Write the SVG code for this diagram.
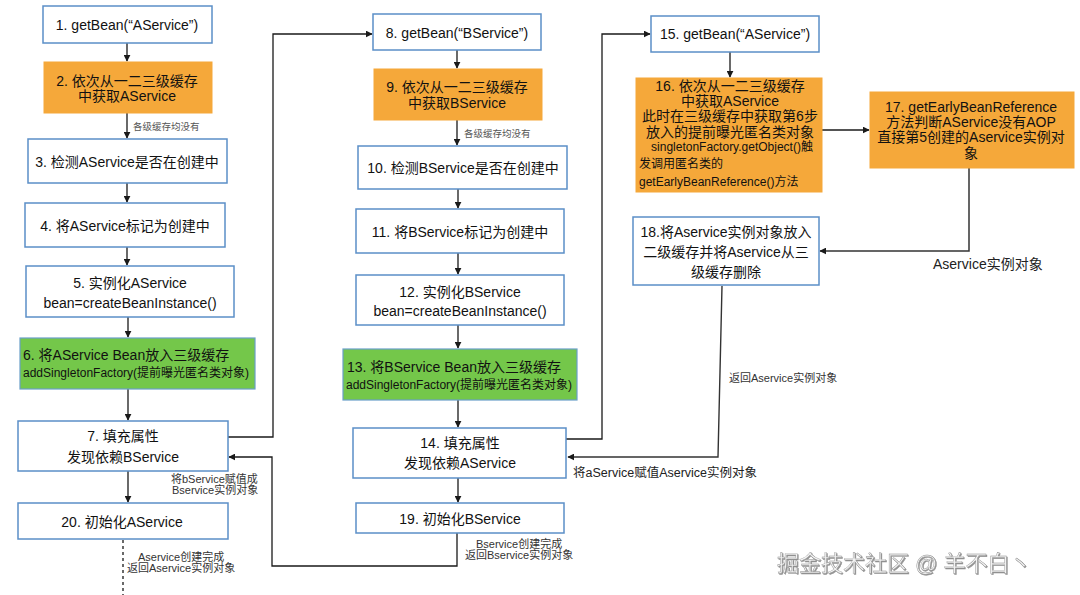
<svg xmlns="http://www.w3.org/2000/svg" width="1080" height="595" viewBox="0 0 1080 595">
<style>
text{font-family:"Liberation Sans","Noto Sans CJK SC",sans-serif;fill:#111}
.t{font-size:14px;text-anchor:middle}
.s{font-size:12px}
.l{font-size:11px;fill:#333}
.g{font-size:9.5px;fill:#555}
.box{fill:#fff;stroke:#5b8fc7;stroke-width:1.5}
.org{fill:#f5a83a;stroke:#f5a83a;stroke-width:1}
.grn{fill:#74c74a;stroke:#6a9fc8;stroke-width:1.2}
.c{fill:none;stroke:#1a1a1a;stroke-width:1.3}
.wm{font-size:22px;fill:#f2f2f2;stroke:#8a8a8a;stroke-width:0.4}
</style>
<defs>
<marker id="a" viewBox="0 0 10 10" refX="9" refY="5" markerWidth="7" markerHeight="7" orient="auto" markerUnits="userSpaceOnUse"><path d="M0,0 L10,5 L0,10 z" fill="#1a1a1a"/></marker>
<filter id="sh" x="-5%" y="-20%" width="110%" height="140%"><feDropShadow dx="1" dy="1" stdDeviation="0.6" flood-color="#777" flood-opacity="0.8"/></filter>
</defs>
<rect width="1080" height="595" fill="#fff"/>

<g id="connectors">
<path class="c" d="M127,43 V61" marker-end="url(#a)"/>
<path class="c" d="M127,113 V138" marker-end="url(#a)"/>
<path class="c" d="M127,183 V202" marker-end="url(#a)"/>
<path class="c" d="M127,247 V265" marker-end="url(#a)"/>
<path class="c" d="M128,317 V337" marker-end="url(#a)"/>
<path class="c" d="M128,389 V420" marker-end="url(#a)"/>
<path class="c" d="M128,471 V502" marker-end="url(#a)"/>
<path class="c" d="M123,540 V595" stroke-dasharray="3,3"/>
<path class="c" d="M228,437 H273 V34 H372" marker-end="url(#a)"/>
<path class="c" d="M457,533 V566 H272 V457 H229" marker-end="url(#a)"/>
<path class="c" d="M457,50 V68" marker-end="url(#a)"/>
<path class="c" d="M457,120 V145" marker-end="url(#a)"/>
<path class="c" d="M458,189 V208" marker-end="url(#a)"/>
<path class="c" d="M458,253 V274" marker-end="url(#a)"/>
<path class="c" d="M458,325 V348" marker-end="url(#a)"/>
<path class="c" d="M458,400 V427" marker-end="url(#a)"/>
<path class="c" d="M458,478 V502" marker-end="url(#a)"/>
<path class="c" d="M566,439 H602 V34 H650" marker-end="url(#a)"/>
<path class="c" d="M730,52 V77" marker-end="url(#a)"/>
<path class="c" d="M822,130 H869" marker-end="url(#a)"/>
<path class="c" d="M969,168 V251 H820" marker-end="url(#a)" style="stroke:#333;stroke-width:1.5"/>
<path class="c" d="M722,286 L718,457 H568" marker-end="url(#a)" style="stroke:#333;stroke-width:1.4"/>
<text class="g" x="133" y="130">各级缓存均没有</text>
<text class="g" x="464" y="137">各级缓存均没有</text>
<text class="l" x="171" y="483">将bService赋值成</text>
<text class="l" x="172" y="494">Bservice实例对象</text>
<text class="l" x="138" y="561">Aservice创建完成</text>
<text class="l" x="127" y="572">返回Aservice实例对象</text>
<text class="l" x="476" y="548">Bservice创建完成</text>
<text class="l" x="465" y="559">返回Bservice实例对象</text>
<text style="font-size:14px;fill:#222" x="933" y="269">Aservice实例对象</text>
<text class="l" x="729" y="382">返回Aservice实例对象</text>
<text style="font-size:12.5px;fill:#222" x="573" y="477">将aService赋值Aservice实例对象</text>
</g>

<g id="n1"><rect class="box" x="43" y="6" width="169" height="37"/><text class="t" x="127" y="30">1. getBean(“AService”)</text></g>
<g id="n2"><rect class="org" x="44" y="62" width="168" height="51"/><text class="t" x="127" y="86">2. 依次从一二三级缓存</text><text class="t" x="127" y="101">中获取AService</text></g>
<g id="n3"><rect class="box" x="28" y="139" width="199" height="44"/><text class="t" x="127" y="167">3. 检测AService是否在创建中</text></g>
<g id="n4"><rect class="box" x="25" y="203" width="200" height="44"/><text class="t" x="125" y="231">4. 将AService标记为创建中</text></g>
<g id="n5"><rect class="box" x="26" y="266" width="208" height="51"/><text class="t" x="130" y="288">5. 实例化AService</text><text class="t" x="130" y="308">bean=createBeanInstance()</text></g>
<g id="n6"><rect class="grn" x="20" y="338" width="235" height="51"/><text style="font-size:14px" x="23" y="360">6. 将AService Bean放入三级缓存</text><text class="s" x="23" y="377">addSingletonFactory(提前曝光匿名类对象)</text></g>
<g id="n7"><rect class="box" x="18" y="421" width="210" height="50"/><text class="t" x="123" y="441">7. 填充属性</text><text class="t" x="123" y="462">发现依赖BService</text></g>
<g id="n20"><rect class="box" x="18" y="503" width="210" height="36"/><text class="t" x="122" y="527">20. 初始化AService</text></g>

<g id="n8"><rect class="box" x="373" y="14" width="168" height="36"/><text class="t" x="457" y="38">8. getBean(“BService”)</text></g>
<g id="n9"><rect class="org" x="374" y="69" width="168" height="51"/><text class="t" x="457" y="92">9. 依次从一二三级缓存</text><text class="t" x="457" y="108">中获取BService</text></g>
<g id="n10"><rect class="box" x="358" y="146" width="209" height="43"/><text class="t" x="463" y="173">10. 检测BService是否在创建中</text></g>
<g id="n11"><rect class="box" x="356" y="209" width="208" height="44"/><text class="t" x="460" y="237">11. 将BService标记为创建中</text></g>
<g id="n12"><rect class="box" x="356" y="275" width="208" height="50"/><text class="t" x="460" y="297">12. 实例化BService</text><text class="t" x="460" y="316">bean=createBeanInstance()</text></g>
<g id="n13"><rect class="grn" x="343" y="349" width="234" height="51"/><text style="font-size:14px" x="347" y="372">13. 将BService Bean放入三级缓存</text><text class="s" x="346" y="389">addSingletonFactory(提前曝光匿名类对象)</text></g>
<g id="n14"><rect class="box" x="353" y="428" width="213" height="50"/><text class="t" x="460" y="448">14. 填充属性</text><text class="t" x="460" y="468">发现依赖AService</text></g>
<g id="n19"><rect class="box" x="356" y="503" width="208" height="30"/><text class="t" x="460" y="524">19. 初始化BService</text></g>

<g id="n15"><rect class="box" x="651" y="16" width="168" height="36"/><text class="t" x="735" y="39">15. getBean(“AService”)</text></g>
<g id="n16"><rect class="org" x="636" y="78" width="186" height="114"/>
<text class="t" x="730" y="91">16. 依次从一二三级缓存</text>
<text class="t" x="730" y="106">中获取AService</text>
<text class="t" x="730" y="121">此时在三级缓存中获取第6步</text>
<text class="t" x="730" y="137">放入的提前曝光匿名类对象</text>
<text class="s" x="732" y="151" text-anchor="middle">singletonFactory.getObject()触</text>
<text class="s" x="639" y="168">发调用匿名类的</text>
<text class="s" x="639" y="186">getEarlyBeanReference()方法</text></g>
<g id="n17"><rect class="org" x="870" y="92" width="204" height="76"/>
<text class="t" x="971" y="112">17. getEarlyBeanReference</text>
<text class="t" x="971" y="127">方法判断AService没有AOP</text>
<text class="t" x="971" y="142">直接第5创建的Aservice实例对</text>
<text class="t" x="971" y="158">象</text></g>
<g id="n18"><rect class="box" x="633" y="217" width="186" height="68"/>
<text class="t" x="726" y="237">18.将Aservice实例对象放入</text>
<text class="t" x="726" y="257">二级缓存并将Aservice从三</text>
<text class="t" x="726" y="277">级缓存删除</text></g>

<text class="wm" x="777" y="571" filter="url(#sh)">掘金技术社区 @ 羊不白丶</text>
</svg>
